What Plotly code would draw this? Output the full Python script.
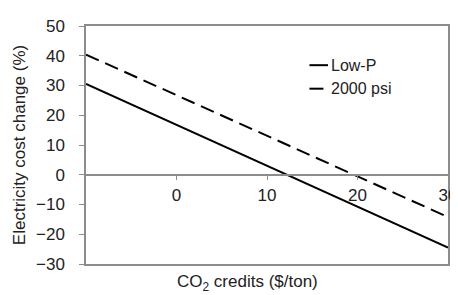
import plotly.graph_objects as go

# Data
credits = [-10, 30]
low_p = [30.5, -24.5]
psi2000 = [40.4, -14.2]
series_names = ["Low-P", "2000 psi"]
x_ticks = [0, 10, 20, 30]

FONT = "Liberation Sans, Arial, sans-serif"
AX = "#8c8c8c"
TXT = "#222"

fig = go.Figure()
fig.add_trace(go.Scatter(x=credits, y=low_p, mode="lines", name=series_names[0],
                         line=dict(color="black", width=2), showlegend=False))
fig.add_trace(go.Scatter(x=credits, y=psi2000, mode="lines", name=series_names[1],
                         line=dict(color="black", width=2, dash="14px,7px"), showlegend=False))
# helper trace so the crossing x-axis is drawn
fig.add_trace(go.Scatter(x=credits, y=[None, None], xaxis="x2", yaxis="y",
                         mode="lines", showlegend=False, hoverinfo="skip"))

fig.update_layout(
    width=458, height=295,
    margin=dict(l=78, r=9, t=13, b=39),
    paper_bgcolor="white", plot_bgcolor="white",
    font=dict(family=FONT, size=17, color=TXT),
    xaxis=dict(range=[-10, 30], showline=True, mirror=True, linecolor=AX, linewidth=1.5,
               showticklabels=False, ticks="", showgrid=False, zeroline=False),
    xaxis2=dict(range=[-10, 30], overlaying="x", anchor="free", position=0.375, side="bottom",
                tickvals=x_ticks, ticks="outside", ticklen=4, tickcolor=AX,
                showline=True, linecolor=AX, linewidth=1.5, showgrid=False, zeroline=False,
                ticklabelstandoff=1, tickfont=dict(size=17, color=TXT)),
    yaxis=dict(range=[-30, 50], dtick=10, ticks="outside", ticklen=5, tickcolor=AX,
               showline=True, mirror=True, linecolor=AX, linewidth=1.5,
               showgrid=False, zeroline=False, ticklabelstandoff=11,
               tickfont=dict(size=17, color=TXT),
               title=dict(text="Electricity cost change (%)", font=dict(size=17), standoff=6)),
)

fig.add_annotation(text="CO<sub>2</sub> credits ($/ton)", xref="paper", yref="paper",
                   x=0.446, y=-0.08, yanchor="middle", showarrow=False, font=dict(size=17))

# manual legend
leg_y = [53, 77]
dashes = ["solid", "14px,7px"]
for i, (nm, d) in enumerate(zip(series_names, dashes)):
    yp = 1 - (leg_y[i] - 13) / (295 - 13 - 39)
    x0 = (307 - 78) / (458 - 78 - 9)
    x1 = (326 - 78) / (458 - 78 - 9)
    fig.add_shape(type="line", xref="paper", yref="paper", x0=x0, x1=x1, y0=yp, y1=yp,
                  line=dict(color="black", width=2, dash=d))
    fig.add_annotation(text=nm, xref="paper", yref="paper", x=(327 - 78) / 371, y=yp,
                       xanchor="left", yanchor="middle", showarrow=False,
                       font=dict(size=16))

fig.write_html("out.html")
